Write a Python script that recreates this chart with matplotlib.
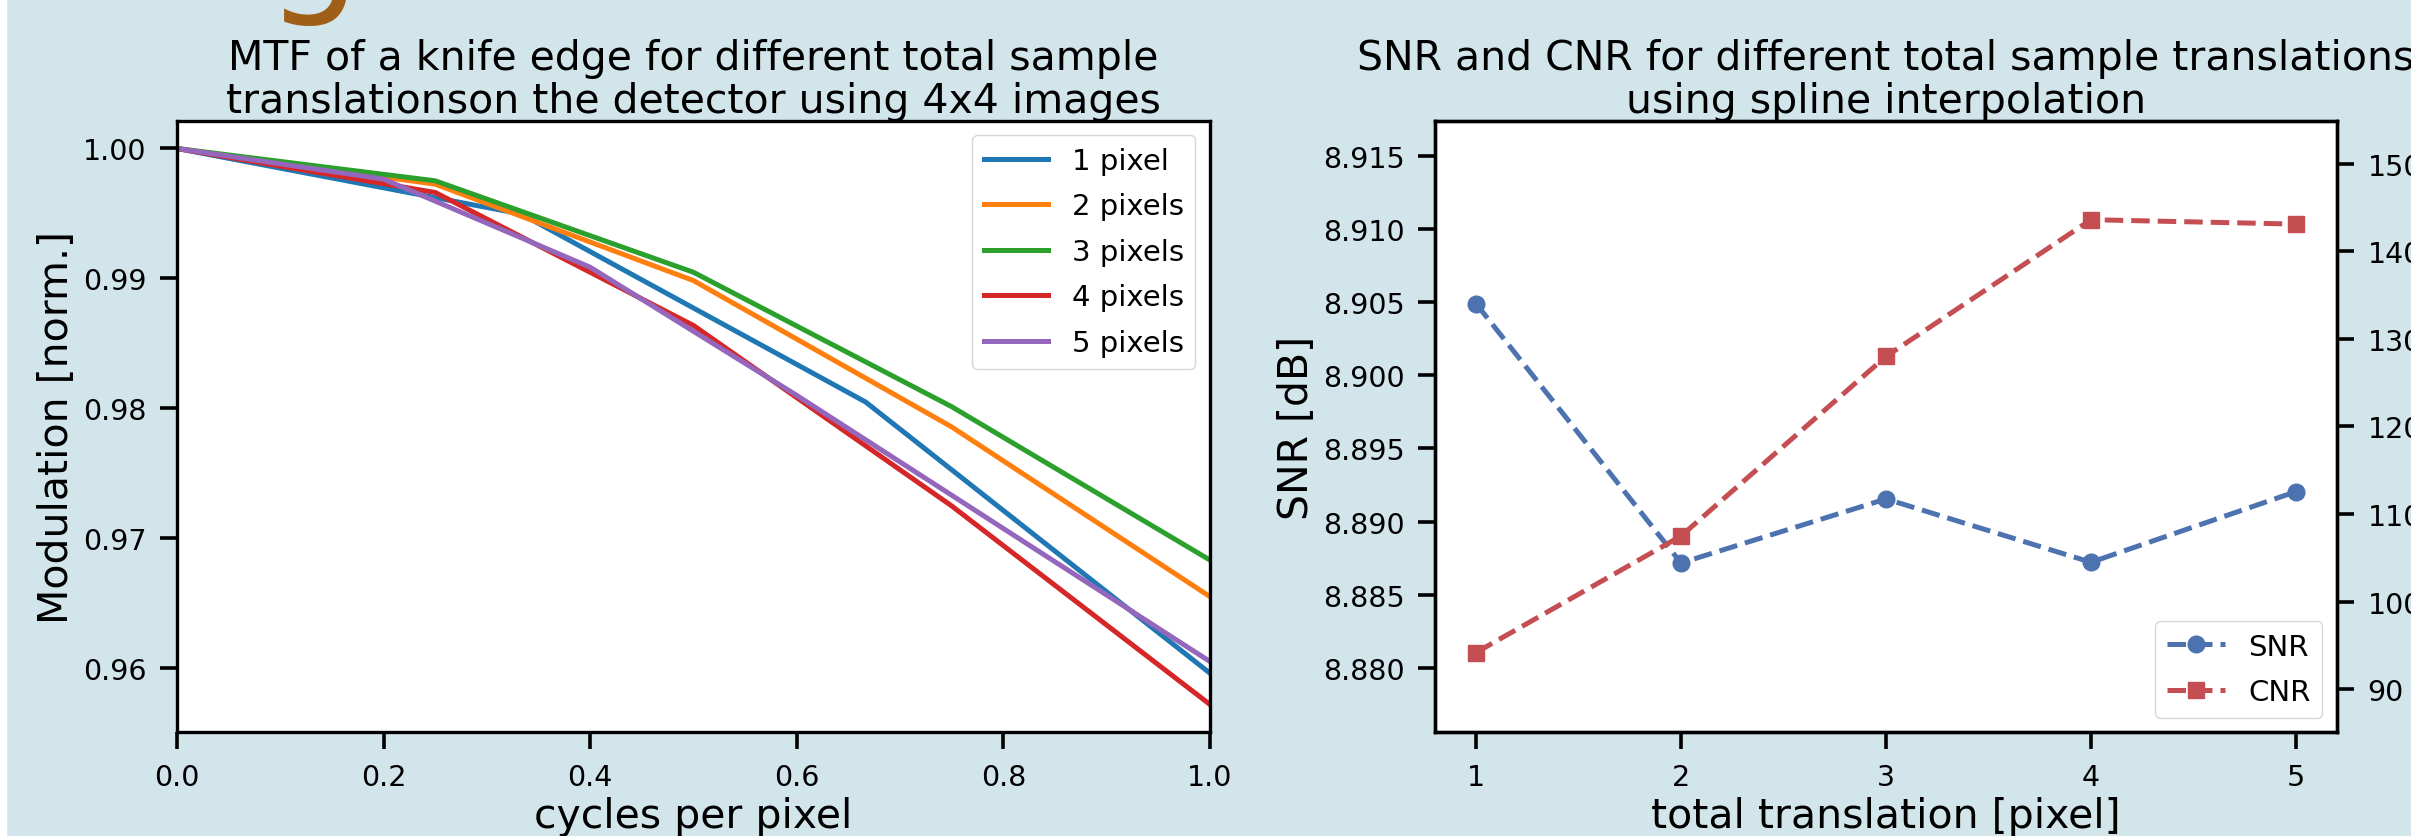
"""
MTF of a knife edge and SNR/CNR for different sample translations
"""
import matplotlib
matplotlib.use('Agg')
import matplotlib.pyplot as plt
from matplotlib.patches import Rectangle


# MTF curves (cycles per pixel -> normalised modulation)
freq_1px = [0.0, 1 / 3, 2 / 3, 1.0]
mtf_1px = [1.0, 0.99495, 0.98046, 0.95956]
freq_2px = [0.0, 0.25, 0.5, 0.75, 1.0]
mtf_2px = [1.0, 0.99725, 0.98982, 0.97854, 0.96546]
freq_3px = [0.0, 0.25, 0.5, 0.75, 1.0]
mtf_3px = [1.0, 0.99751, 0.99046, 0.98010, 0.96828]
freq_4px = [0.0, 0.25, 0.5, 0.75, 1.0]
mtf_4px = [1.0, 0.99661, 0.98636, 0.97245, 0.95715]
freq_5px = [0.0, 0.2, 0.4, 0.6, 0.8, 1.0]
mtf_5px = [1.0, 0.99764, 0.99085, 0.98097, 0.97071, 0.96046]
mtf_labels = ['1 pixel', '2 pixels', '3 pixels', '4 pixels', '5 pixels']

# SNR / CNR against total translation
translation = [1, 2, 3, 4, 5]
snr = [8.9049, 8.88717, 8.89155, 8.88722, 8.89205]
cnr = [94.2, 107.5, 128.0, 143.6, 143.1]

page_bg = '#d2e5eb'
title_fs = 29.5
label_fs = 29.5
tick_fs = 20.5
legend_fs = 21


def style_axes(ax):
    for spine in ax.spines.values():
        spine.set_linewidth(2.4)
        spine.set_color('black')
    ax.tick_params(direction='out', length=12, width=2.6, pad=10,
                   labelsize=tick_fs, colors='black')


def main():
    fig = plt.figure(figsize=(24.11, 8.37), dpi=100, facecolor=page_bg)
    fig.patches.append(Rectangle((0, 0), 6 / 2411, 1, transform=fig.transFigure,
                                 color='white', zorder=0))
    # bottom of a heading letter cut by the screenshot
    fig.text(266 / 2411, 1 + 5 / 837, 'g', fontsize=108, color='#9f5f17',
             va='baseline', ha='left')

    # left: MTF
    ax = fig.add_axes([0.07341, 0.12390, 0.42845, 0.73070])
    series = [(freq_1px, mtf_1px), (freq_2px, mtf_2px), (freq_3px, mtf_3px),
              (freq_4px, mtf_4px), (freq_5px, mtf_5px)]
    for (fx, my), lab in zip(series, mtf_labels):
        ax.plot(fx, my, linewidth=3.6, label=lab)
    ax.set_xlim(0, 1)
    ax.set_xlabel('cycles per pixel', fontsize=label_fs)
    ax.set_ylabel('Modulation [norm.]', fontsize=label_fs)
    ax.set_title('MTF of a knife edge for different total sample\n'
                 'translationson the detector using 4x4 images',
                 fontsize=title_fs, pad=6, linespacing=1.1)
    ax.legend(loc='upper right', fontsize=legend_fs, edgecolor='0.8',
              handlelength=2.2, labelspacing=0.6)
    style_axes(ax)

    # right: SNR and CNR
    ax1 = fig.add_axes([0.59519, 0.12390, 0.37412, 0.73070])
    ax2 = ax1.twinx()
    l1, = ax1.plot(translation, snr, '--o', color='#4c72b0', linewidth=3.6,
                   markersize=12, label='SNR')
    l2, = ax2.plot(translation, cnr, '--s', color='#c44e52', linewidth=3.6,
                   markersize=12, label='CNR')
    ax1.set_ylim(8.8756, 8.9174)
    ax2.set_ylim(85.1, 154.9)
    ax1.set_xticks(translation)
    ax1.set_xlabel('total translation [pixel]', fontsize=label_fs)
    ax1.set_ylabel('SNR [dB]', fontsize=label_fs)
    ax1.set_title('SNR and CNR for different total sample translations\n'
                  'using spline interpolation', fontsize=title_fs, pad=6,
                  linespacing=1.1)
    ax2.legend([l1, l2], ['SNR', 'CNR'], loc='lower right', fontsize=legend_fs,
               edgecolor='0.8', handlelength=2.0, labelspacing=0.6)
    style_axes(ax1)
    style_axes(ax2)

    fig.savefig('out.png', dpi=100, facecolor=page_bg)
    plt.close()


if __name__ == '__main__':
    main()
